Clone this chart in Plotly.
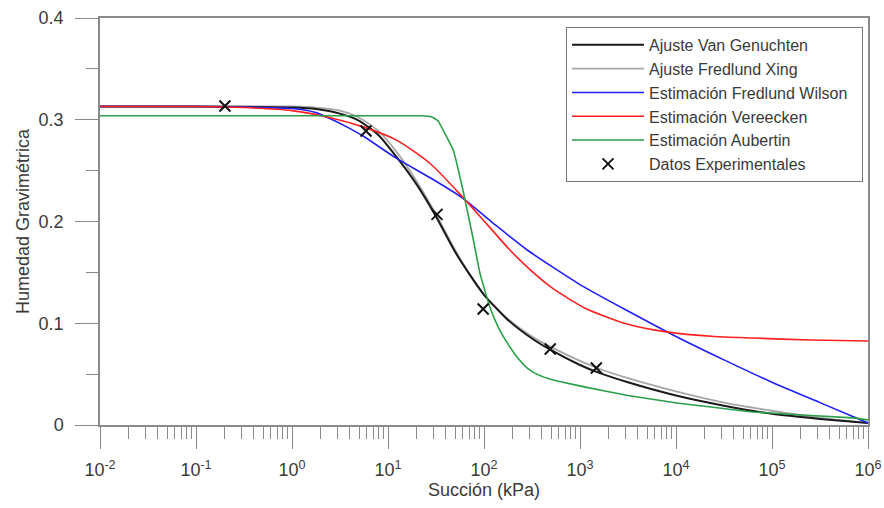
import plotly.graph_objects as go

# ---- data (suction in kPa, gravimetric water content) ----
suction_vg = [0.01, 0.1, 1, 1.78, 3.16, 5.01, 7.94, 12.6, 20, 31.6, 50.1, 70.8, 100, 174, 316, 490, 1000, 1510, 3160, 10000, 31600, 1e5, 3.16e5, 1e6]
w_vg = [0.313, 0.313, 0.312, 0.3105, 0.306, 0.299, 0.285, 0.262, 0.236, 0.205, 0.170, 0.148, 0.128, 0.104, 0.085, 0.074, 0.059, 0.052, 0.042, 0.029, 0.019, 0.011, 0.006, 0.002]

suction_fx = suction_vg
w_fx = [0.313, 0.313, 0.313, 0.312, 0.309, 0.302, 0.289, 0.267, 0.239, 0.207, 0.172, 0.148, 0.128, 0.105, 0.087, 0.077, 0.063, 0.056, 0.046, 0.033, 0.022, 0.014, 0.007, 0.002]

suction_fw = [0.01, 0.1, 0.316, 1, 1.78, 2.51, 3.72, 5.5, 12.3, 27.5, 60, 126, 282, 1000, 3160, 10000, 31600, 1e5, 3.16e5, 1e6]
w_fw = [0.313, 0.313, 0.3125, 0.311, 0.307, 0.301, 0.293, 0.284, 0.262, 0.243, 0.223, 0.198, 0.172, 0.138, 0.112, 0.087, 0.064, 0.042, 0.022, 0.002]

suction_ve = [0.01, 0.1, 0.316, 1, 2.51, 5.5, 12.3, 27.5, 60, 91, 186, 316, 525, 1175, 3160, 7940, 25100, 63100, 2.51e5, 1e6]
w_ve = [0.313, 0.313, 0.312, 0.309, 0.302, 0.293, 0.280, 0.257, 0.224, 0.205, 0.172, 0.151, 0.134, 0.114, 0.099, 0.0915, 0.087, 0.0855, 0.0835, 0.0825]

suction_au = [0.01, 22.4, 28.2, 33.1, 47.9, 60.3, 76.7, 90.8, 115, 141, 174, 224, 282, 355, 457, 631, 1175, 3160, 8710, 63100, 6.92e5, 1e6]
w_au = [0.304, 0.304, 0.303, 0.299, 0.270, 0.231, 0.184, 0.149, 0.116, 0.096, 0.081, 0.066, 0.056, 0.050, 0.046, 0.0425, 0.037, 0.029, 0.0226, 0.0128, 0.007, 0.005]

suction_exp = [0.2, 5.9, 32.4, 98, 490, 1480]
w_exp = [0.3135, 0.289, 0.207, 0.114, 0.0747, 0.056]

x_tickvals = [1e-2, 1e-1, 1, 10, 100, 1e3, 1e4, 1e5, 1e6]
x_ticktext = ["10<sup>-2</sup>", "10<sup>-1</sup>", "10<sup>0</sup>", "10<sup>1</sup>", "10<sup>2</sup>",
              "10<sup>3</sup>", "10<sup>4</sup>", "10<sup>5</sup>", "10<sup>6</sup>"]
y_tickvals = [0, 0.1, 0.2, 0.3, 0.4]
y_ticktext = ["0", "0.1", "0.2", "0.3", "0.4"]

FONT = "Liberation Sans, Arial, sans-serif"
AXC = "#8a8a8a"
TXT = "#3a3a3a"

fig = go.Figure()
fig.add_trace(go.Scatter(x=suction_fx, y=w_fx, mode="lines", name="Ajuste Fredlund Xing",
                         line=dict(color="#a6a6a6", width=1.8, shape="spline", smoothing=0.6),
                         legendgroup="b", legendrank=2))
fig.add_trace(go.Scatter(x=suction_vg, y=w_vg, mode="lines", name="Ajuste Van Genuchten",
                         line=dict(color="#1a1a1a", width=2, shape="spline", smoothing=0.6),
                         legendgroup="a", legendrank=1))
fig.add_trace(go.Scatter(x=suction_fw, y=w_fw, mode="lines", name="Estimación Fredlund Wilson\u00a0\u00a0",
                         line=dict(color="#1f1fff", width=1.6, shape="spline", smoothing=0.6),
                         legendgroup="c", legendrank=3))
fig.add_trace(go.Scatter(x=suction_ve, y=w_ve, mode="lines", name="Estimación Vereecken",
                         line=dict(color="#ff2020", width=1.6, shape="spline", smoothing=0.6),
                         legendgroup="d", legendrank=4))
fig.add_trace(go.Scatter(x=suction_au, y=w_au, mode="lines", name="Estimación Aubertin",
                         line=dict(color="#2aa04a", width=1.6, shape="spline", smoothing=0.3),
                         legendgroup="e", legendrank=5))
fig.add_trace(go.Scatter(x=suction_exp, y=w_exp, mode="markers", name="Datos Experimentales",
                         marker=dict(symbol="x-thin", size=11, color="#111", line=dict(width=2, color="#111")),
                         legendgroup="f", legendrank=6))

fig.update_layout(
    width=884, height=508,
    margin=dict(l=100, r=16, t=18, b=83),
    paper_bgcolor="white", plot_bgcolor="white",
    font=dict(family=FONT, size=18, color=TXT),
    showlegend=True,
    legend=dict(x=0.9935, y=0.978, xanchor="right", yanchor="top",
                bgcolor="white", bordercolor="#777", borderwidth=1,
                font=dict(family=FONT, size=16, color=TXT),
                tracegroupgap=3, itemwidth=72, traceorder="normal"),
)
fig.update_xaxes(
    type="log", range=[-2, 6], tickvals=x_tickvals, ticktext=x_ticktext, automargin=False,
    showgrid=False, zeroline=False, showline=True, linecolor=AXC, linewidth=1.5, mirror=True,
    ticks="outside", ticklen=22, tickwidth=1.2, tickcolor=AXC,
    minor=dict(ticks="outside", ticklen=12, tickwidth=1, tickcolor=AXC, dtick="D1", showgrid=False),
    tickfont=dict(size=18, color=TXT), ticklabelstandoff=6,
    title=dict(text="Succión (kPa)", font=dict(size=18, color=TXT), standoff=3),
)
fig.update_yaxes(
    range=[0, 0.4], tickvals=y_tickvals, ticktext=y_ticktext, automargin=False,
    showgrid=False, zeroline=False, showline=True, linecolor=AXC, linewidth=1.5, mirror=True,
    ticks="outside", ticklen=23, tickwidth=1.2, tickcolor=AXC,
    minor=dict(ticks="outside", ticklen=12, tickwidth=1, tickcolor=AXC, dtick=0.05, showgrid=False),
    tickfont=dict(size=18, color=TXT), ticklabelstandoff=8,
    title=dict(text="Humedad Gravimétrica", font=dict(size=18, color=TXT), standoff=4),
)

fig.write_html("out.html")
